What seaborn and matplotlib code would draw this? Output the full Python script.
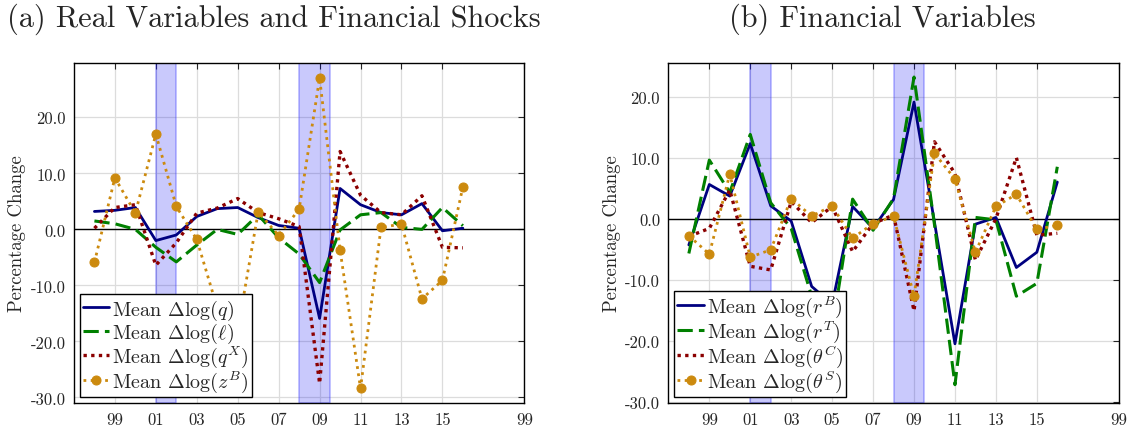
import numpy as np
import pandas as pd
import matplotlib
matplotlib.use("Agg")
import matplotlib.pyplot as plt
import seaborn as sns

# =========================================
# Data
# =========================================
years = list(range(1998, 2017))

# (a) real variables and financial shocks
q_mean = [3.2, 3.4, 3.9, -2.0, -1.0, 2.3, 3.7, 3.9, 2.1, 0.7, 0.2, -15.9, 7.3, 4.4, 3.0, 2.6, 4.6, -0.25, 0.2]
l_mean = [1.5, 1.0, 0.0, -3.2, -5.8, -2.8, 0.0, -0.9, 2.6, -1.5, -4.4, -9.5, -0.1, 2.6, 3.0, 0.35, 0.0, 3.9, 0.65]
qx_mean = [0.2, 3.9, 4.4, -6.4, -2.4, 2.9, 3.8, 5.5, 3.0, 1.9, 0.5, -27.5, 13.9, 6.1, 3.0, 2.6, 6.0, -3.2, -3.3]
zb_mean = [-5.9, 9.2, 2.9, 17.0, 4.1, -1.8, -14.0, -18.0, 3.1, -1.1, 3.6, 27.0, -3.7, -28.4, 0.35, 0.95, -12.4, -9.1, 7.6]

# (b) financial variables
rb_mean = [-4.3, 5.6, 3.7, 12.3, 2.1, -0.4, -11.1, -14.0, 2.0, -1.6, 3.15, 19.1, -0.6, -20.5, -0.9, 0.2, -8.0, -5.5, 6.0]
rt_mean = [-5.7, 9.6, 4.3, 13.8, 2.6, -1.6, -12.7, -18.2, 3.2, -1.9, 3.3, 23.2, -1.0, -27.2, 0.2, -0.2, -12.7, -10.6, 8.5]
thc_mean = [-2.9, -1.6, 4.7, -7.8, -8.4, 2.8, -0.65, 2.0, -5.4, -0.8, 0.6, -15.1, 12.6, 7.4, -6.8, 0.0, 10.0, -2.7, -2.4]
ths_mean = [-2.8, -5.8, 7.3, -6.3, -5.1, 3.3, 0.4, 2.1, -3.2, -0.8, 0.4, -12.7, 10.7, 6.5, -5.5, 2.0, 4.0, -1.75, -1.1]

recessions = [(2001, 2002), (2008, 2009.5)]
tick_years = [1999, 2001, 2003, 2005, 2007, 2009, 2011, 2013, 2015, 2019]
tick_labels = ["99", "01", "03", "05", "07", "09", "11", "13", "15", "99"]

# =========================================
# Style
# =========================================
sns.set_style("white")
plt.rcParams["font.family"] = "cmr10"
plt.rcParams["mathtext.fontset"] = "cm"
plt.rcParams["axes.unicode_minus"] = False
plt.rcParams["axes.formatter.use_mathtext"] = False

gold = "#cc8a0e"
styles = [
    dict(color="#000080", linestyle="-", linewidth=2.0),
    dict(color="#008000", linestyle=(0, (5, 2)), linewidth=2.2),
    dict(color="#8b0000", linestyle=(0, (1, 1.3)), linewidth=2.4),
    dict(color=gold, linestyle=(0, (1, 1.6)), linewidth=2.0, marker="o",
         markersize=6.5, markeredgecolor=gold, markerfacecolor=gold),
]

fig = plt.figure(figsize=(11.29, 4.31), dpi=100)
ax_a = fig.add_axes([0.0655, 0.0626, 0.3989, 0.7889])
ax_b = fig.add_axes([0.5920, 0.0626, 0.3989, 0.7889])


def draw_panel(ax, series, labels, ylim, yticks):
    for lo, hi in recessions:
        ax.axvspan(lo, hi, facecolor=(0.0, 0.0, 0.95, 0.21), edgecolor=(0.2, 0.2, 1.0, 0.35), linewidth=1.2)
    ax.axhline(0, color="black", linewidth=1)
    for vals, lab, st in zip(series, labels, styles):
        sns.lineplot(x=years, y=vals, ax=ax, label=lab, **st)
    ax.set_xlim(1997, 2019)
    ax.set_ylim(*ylim)
    ax.set_xticks(tick_years)
    ax.set_xticklabels(tick_labels)
    ax.set_yticks(yticks)
    ax.set_yticklabels([f"{v:.1f}" for v in yticks])
    ax.grid(True, color="#dcdcdc", linewidth=0.9)
    ax.set_axisbelow(True)
    ax.tick_params(direction="in", top=True, right=True, length=4, labelsize=12, pad=6)
    for sp in ax.spines.values():
        sp.set_color("black")
        sp.set_linewidth(1.0)
    ax.set_ylabel("Percentage Change", fontsize=13.5, labelpad=3)
    leg = ax.legend(loc="lower left", fontsize=14.5, frameon=True, fancybox=False,
                    framealpha=1, edgecolor="black", handlelength=1.3, handletextpad=0.15,
                    borderpad=0.15, labelspacing=-0.05, borderaxespad=0.3)
    leg.get_frame().set_linewidth(1.0)


draw_panel(
    ax_a,
    [q_mean, l_mean, qx_mean, zb_mean],
    [r"Mean $\Delta\log(q)$", r"Mean $\Delta\log(\ell)$",
     r"Mean $\Delta\log(q^X)$", r"Mean $\Delta\log(z^B)$"],
    (-31, 29.7),
    [-30, -20, -10, 0, 10, 20],
)
draw_panel(
    ax_b,
    [rb_mean, rt_mean, thc_mean, ths_mean],
    [r"Mean $\Delta\log(r^B)$", r"Mean $\Delta\log(r^T)$",
     r"Mean $\Delta\log(\theta^C)$", r"Mean $\Delta\log(\theta^S)$"],
    (-30.2, 25.5),
    [-30, -20, -10, 0, 10, 20],
)

fig.text(0.2427, 0.955, "(a) Real Variables and Financial Shocks", ha="center", va="center", fontsize=21.8)
fig.text(0.7815, 0.955, "(b) Financial Variables", ha="center", va="center", fontsize=21.8)

fig.savefig("out.png", dpi=100)
